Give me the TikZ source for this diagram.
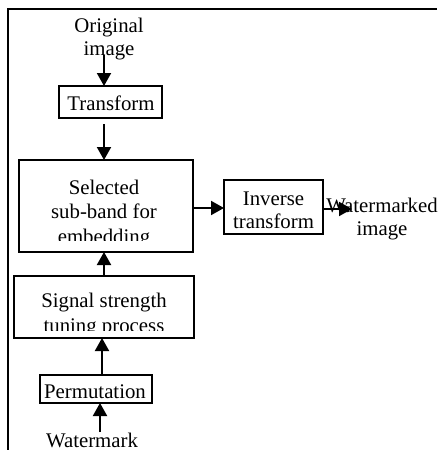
\documentclass[tikz,border=0pt]{standalone}
\usepackage{fontspec}
\setmainfont{Liberation Serif}
\usetikzlibrary{arrows.meta}
\begin{document}
\begin{tikzpicture}[x=1pt,y=-1pt,
  box/.style={draw=black,line width=1.8pt,inner sep=0pt,outer sep=0pt},
  txt/.style={font=\fontsize{20.8}{23}\selectfont,inner sep=0pt,outer sep=0pt,align=center},
  widetxt/.style={txt,font=\fontsize{20.8}{24.5}\selectfont},
  arr/.style={line width=2pt,-{Triangle[width=14pt,length=13pt]}}]
\useasboundingbox (0,0) rectangle (437,450);
% frame
\draw[line width=2pt] (8,450) -- (8,9) -- (437,9);
% boxes
\node[box,minimum width=103pt,minimum height=32pt] (trans) at (110.5,102) {};
\node[box,minimum width=174pt,minimum height=92pt] (sel) at (106,206) {};
\node[box,minimum width=99pt,minimum height=54pt] (inv) at (273.5,207) {};
\node[box,minimum width=180pt,minimum height=62pt] (sig) at (104,307) {};
\node[box,minimum width=112pt,minimum height=28pt] (perm) at (96,389) {};
% texts (anchor base = baseline of the last line)
\node[txt,anchor=base] (origtxt) at (109,55) {Original\\image};
\node[txt,anchor=base] (transtxt) at (111,110) {Transform};
\node[txt,anchor=base] (invtxt) at (273.5,228) {Inverse\\transform};
\node[txt,anchor=base] (wmtxt) at (382,235) {Watermarked\\image};
\node[txt,anchor=base] (permtxt) at (95,398) {Permutation};
\node[txt,anchor=base] (wtxt) at (92,447) {Watermark};
\begin{scope}
\clip (19,160) rectangle (193,240);
\node[widetxt,anchor=base] (seltxt) at (104,243) {Selected\\sub-band for\\embedding};
\end{scope}
\begin{scope}
\clip (14,276) rectangle (194,330.5);
\node[widetxt,anchor=base] (sigtxt) at (104,332) {Signal strength\\tuning process};
\end{scope}
% connectors
\coordinate (o1) at (104,55);
\coordinate (wm) at (352,209);
\coordinate (w1) at (100,432);
\draw[arr] (o1) -- (o1 |- trans.north);
\draw[arr] ([xshift=-6.5pt,yshift=-6pt]trans.south) -- ([xshift=-2pt]sel.north);
\draw[arr] ([yshift=-2pt]sel.east) -- ([yshift=-2pt]sel.east -| inv.west);
\draw[arr] (inv.east |- wm) -- (wm);
\draw[arr] (sig.north) -- (sig.north |- sel.south);
\draw[arr] ([xshift=6pt]perm.north) -- ([xshift=6pt]perm.north |- sig.south);
\draw[arr] (w1) -- (w1 |- perm.south);
\end{tikzpicture}
\end{document}
